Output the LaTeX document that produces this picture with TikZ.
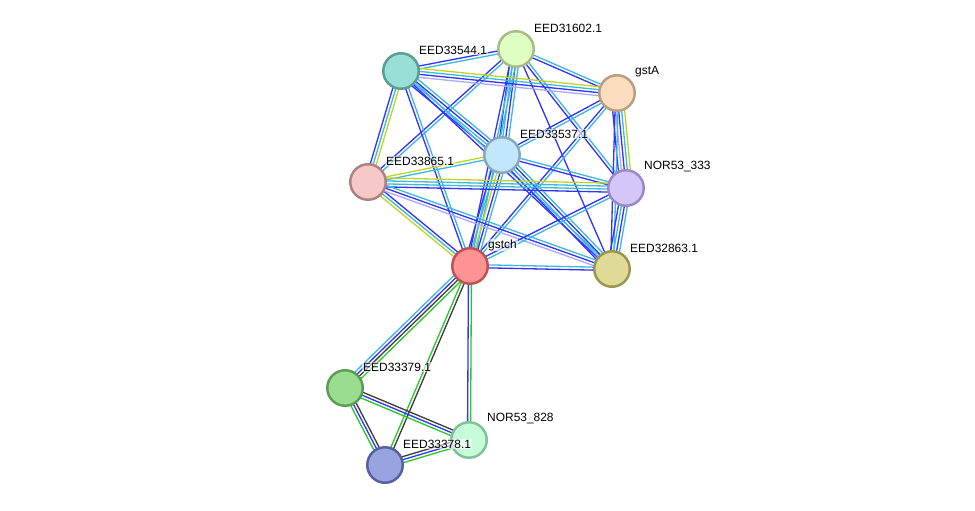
\documentclass[tikz,border=0pt]{standalone}
\usepackage{fontspec}
\setmainfont{Liberation Sans}
\usetikzlibrary{calc,backgrounds}
% edge colours
\definecolor{cb}{RGB}{51,51,255}
\definecolor{cc}{RGB}{60,185,220}
\definecolor{cy}{RGB}{192,212,40}
\definecolor{cl}{RGB}{170,170,250}
\definecolor{cg}{RGB}{40,200,40}
\definecolor{ck}{RGB}{60,60,60}
% node colours
\definecolor{f31602}{HTML}{DFFFC2}\definecolor{d31602}{HTML}{A6BC84}
\definecolor{f33544}{HTML}{99DFD5}\definecolor{d33544}{HTML}{5C9C92}
\definecolor{fgsta}{HTML}{FDDDBF}\definecolor{dgsta}{HTML}{B89E80}
\definecolor{f33537}{HTML}{C2E6FA}\definecolor{d33537}{HTML}{86A8BE}
\definecolor{f33865}{HTML}{F7C8C8}\definecolor{d33865}{HTML}{B08080}
\definecolor{f333}{HTML}{D5C6F9}\definecolor{d333}{HTML}{9A88C8}
\definecolor{fgstch}{HTML}{FF9393}\definecolor{dgstch}{HTML}{BE5252}
\definecolor{f32863}{HTML}{DFDA96}\definecolor{d32863}{HTML}{9A9650}
\definecolor{f33379}{HTML}{9ADD90}\definecolor{d33379}{HTML}{5A9E52}
\definecolor{f828}{HTML}{C6FCD8}\definecolor{d828}{HTML}{80C09A}
\definecolor{f33378}{HTML}{98A3E0}\definecolor{d33378}{HTML}{55609E}
% #1,#2 nodes, #3 number of lines, #4 colours
\newcommand\strlink[4]{%
  \foreach \c [count=\i] in {#4}{%
    \pgfmathsetmacro\off{(\i-(#3+1)/2)*1.7}
    \draw[\c] ($(#1)!\off pt!90:(#2)$)--($(#2)!\off pt!-90:(#1)$);}}
\tikzset{
  prot/.style={circle, line width=1.4pt, minimum size=0.71cm, inner sep=0pt},
  lbl/.style={anchor=west, inner sep=0.5pt, fill=white, fill opacity=0.6, text opacity=1,
    font=\fontsize{6.8}{8}\selectfont}
}
\begin{document}
\begin{tikzpicture}[x=0.02cm, y=-0.02cm, line cap=round]
\useasboundingbox (0,0) rectangle (975,511);
\foreach \n/\x/\y/\col in {e31602/516/49/31602, e33544/401/71/33544, gsta/617/93/gsta,
    e33537/502/155/33537, e33865/368/182/33865, n333/626/188/333, gstch/470/266/gstch,
    e32863/612/269/32863, e33379/345/388/33379, n828/469/440/828, e33378/385/465/33378}
  \node[prot, fill=f\col, draw=d\col] (\n) at (\x,\y) {};
\foreach \n/\t in {e31602/EED31602.1, e33544/EED33544.1, gsta/gstA, e33537/EED33537.1,
    e33865/EED33865.1, n333/NOR53\_333, gstch/gstch, e32863/EED32863.1,
    e33379/EED33379.1, n828/NOR53\_828, e33378/EED33378.1}
  \node[lbl] (\n-l) at ([shift={(17,-21)}]\n.center) {\t};
\begin{pgfonlayer}{background}
\begin{scope}[line width=0.75pt]
\strlink{e31602}{e33544}{2}{cb,cc}
\strlink{e31602}{gsta}{2}{cb,cc}
\strlink{e31602}{e33537}{4}{cb,cc,cb,cc}
\strlink{e31602}{e33865}{2}{cb,cc}
\strlink{e31602}{gstch}{3}{cb,cc,cc}
\strlink{e31602}{n333}{2}{cb,cc}
\strlink{e31602}{e32863}{1}{cb}
\strlink{e33544}{gsta}{4}{cl,cb,cc,cy}
\strlink{e33544}{e33865}{3}{cb,cc,cy}
\strlink{e33544}{e33537}{4}{cb,cc,cb,cc}
\strlink{e33544}{gstch}{2}{cb,cc}
\strlink{e33544}{e32863}{2}{cb,cc}
\strlink{gsta}{e33537}{2}{cb,cc}
\strlink{gsta}{gstch}{2}{cb,cc}
\strlink{gsta}{n333}{5}{cb,cl,cb,cc,cy}
\strlink{gsta}{e32863}{2}{cb,cc}
\strlink{e33537}{e33865}{2}{cy,cc}
\strlink{e33537}{n333}{2}{cb,cc}
\strlink{e33537}{gstch}{5}{cb,cc,cy,cb,cc}
\strlink{e33537}{e32863}{4}{cb,cc,cb,cc}
\strlink{e33865}{n333}{4}{cb,cc,cc,cy}
\strlink{e33865}{gstch}{3}{cy,cc,cb}
\strlink{e33865}{e32863}{3}{cl,cb,cc}
\strlink{n333}{gstch}{2}{cb,cc}
\strlink{n333}{e32863}{4}{cb,cc,cb,cc}
\strlink{gstch}{e32863}{2}{cb,cc}
\strlink{gstch}{e33379}{4}{cc,cb,ck,cg}
\strlink{gstch}{e33378}{2}{cg,ck}
\strlink{gstch}{n828}{2}{cb,cg}
\strlink{e33379}{n828}{3}{cg,cb,ck}
\strlink{e33379}{e33378}{3}{cg,cb,ck}
\strlink{e33378}{n828}{3}{cg,cb,ck}
\end{scope}
\end{pgfonlayer}
\end{tikzpicture}
\end{document}
